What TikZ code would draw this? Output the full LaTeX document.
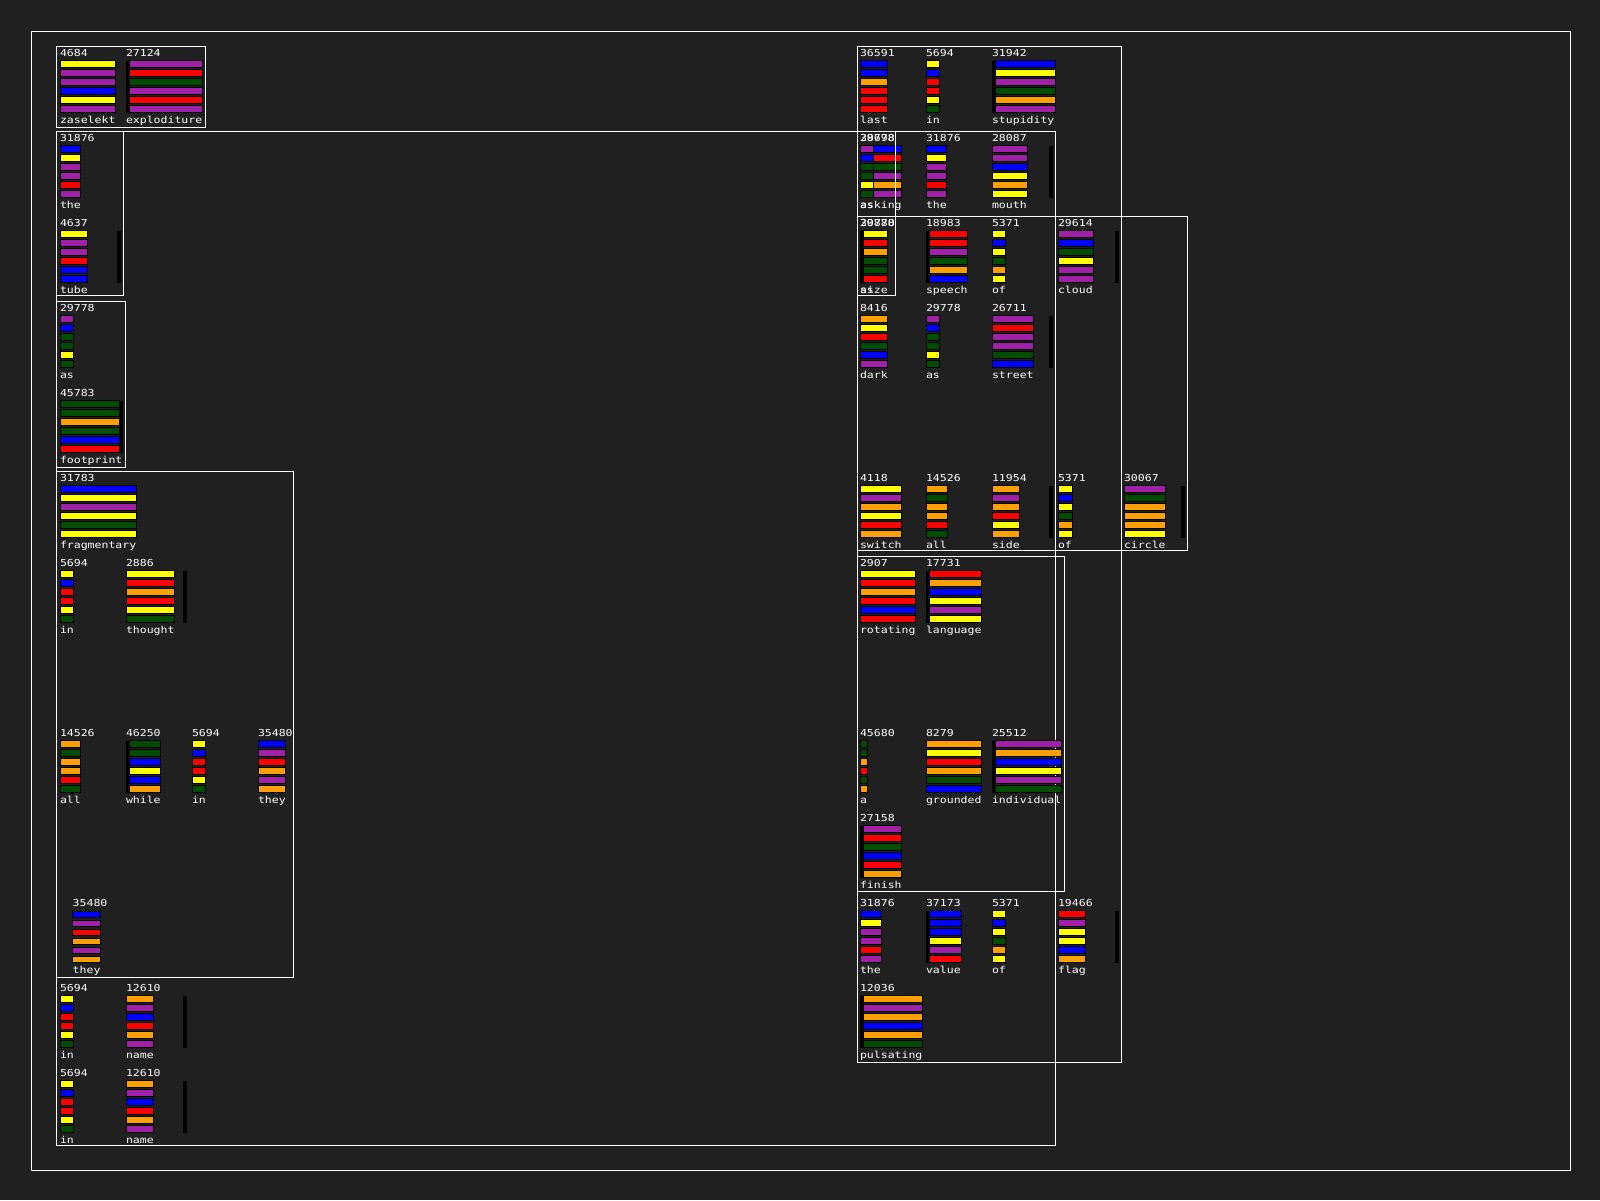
\documentclass[tikz,border=0pt]{standalone}
\usepackage{fontspec}
\newfontfamily\pixfont[FakeStretch=1.2]{DejaVu Sans Mono}
\definecolor{bgc}{HTML}{202020}
\definecolor{cy}{HTML}{FFFF00}
\definecolor{cp}{HTML}{A020A8}
\definecolor{cb}{HTML}{0000FF}
\definecolor{cr}{HTML}{FF0000}
\definecolor{cg}{HTML}{004D00}
\definecolor{co}{HTML}{FFA000}
\tikzset{
  txt/.style={anchor=base west, inner sep=0pt, outer sep=0pt, text=white, font=\pixfont\fontsize{9.6}{11}\selectfont},
  barbox/.style={draw=black, line width=1pt},
  stembox/.style={fill=black},
  grp/.style={draw=white, line width=1pt},
}
% #1 name, #2 x, #3 y, #4 number, #5 word, #6 bar x0, #7 bar x1, #8 colours
\newcommand\gcell[8]{%
  \node[txt] (n-#1) at (#2,#3+7) {#4};
  \node[txt] (w-#1) at (#2,#3+74) {#5};
  \foreach \cc [count=\ii from 0] in {#8} {
    \draw[barbox, fill=\cc] (#6,#3+11.3+9*\ii) rectangle (#7,#3+18+9*\ii);
  }
}
\newcommand\gstem[3]{\fill[stembox] (#1,#3+11.3) rectangle (#2,#3+64);}
\begin{document}
\begin{tikzpicture}[x=1pt,y=-1pt]
\useasboundingbox (0,0) rectangle (1600,1200);
\fill[bgc] (0,0) rectangle (1600,1200);
\draw[grp] (31,31) rectangle (1570,1170);
\draw[grp] (56.7,131) rectangle (1055,1145);
% ---------------- left group
\gcell{a1}{60}{49.3}{4684}{zaselekt}{60}{115.7}{cy,cp,cp,cb,cy,cp}
\gstem{126}{129.3}{49.3}
\gcell{a2}{126}{49.3}{27124}{exploditure}{129.3}{202.7}{cp,cr,cg,cp,cr,cp}
\gcell{a3}{60}{134.3}{31876}{the}{60}{80.7}{cb,cy,cp,cp,cr,cp}
\gcell{a4}{60}{219.3}{4637}{tube}{60}{87.7}{cy,cp,cp,cr,cb,cb}
\gstem{116.7}{121}{219.3}
\gcell{a5}{60}{304.3}{29778}{as}{60}{73.7}{cp,cb,cg,cg,cy,cg}
\gcell{a6}{60}{389.3}{45783}{footprint}{60}{119.3}{cg,cg,co,cg,cb,cr}
\gstem{119.3}{122.7}{389.3}
\gcell{a7}{60}{474.3}{31783}{fragmentary}{60}{136.7}{cb,cy,cp,cy,cg,cy}
\gcell{a8}{60}{559.3}{5694}{in}{60}{73.7}{cy,cb,cr,cr,cy,cg}
\gcell{a9}{126}{559.3}{2886}{thought}{126}{174.7}{cy,cr,co,cr,cy,cg}
\gstem{182.7}{186.7}{559.3}
\gcell{a10}{60}{729.3}{14526}{all}{60}{80.7}{co,cg,co,co,cr,cg}
\gstem{126}{129.3}{729.3}
\gcell{a11}{126}{729.3}{46250}{while}{129.3}{160.7}{cg,cg,cb,cy,cb,co}
\gcell{a12}{192}{729.3}{5694}{in}{192}{205.7}{cy,cb,cr,cr,cy,cg}
\gcell{a13}{258}{729.3}{35480}{they}{258}{285.7}{cb,cp,cr,co,cp,co}
\gcell{a14}{72.7}{899.8}{35480}{they}{72.7}{100.7}{cb,cp,cr,co,cp,co}
\gcell{a15}{60}{984.3}{5694}{in}{60}{73.7}{cy,cb,cr,cr,cy,cg}
\gcell{a16}{126}{984.3}{12610}{name}{126}{153.7}{co,cp,cb,cr,co,cp}
\gstem{182.7}{186.7}{984.3}
\gcell{a17}{60}{1069.3}{5694}{in}{60}{73.7}{cy,cb,cr,cr,cy,cg}
\gcell{a18}{126}{1069.3}{12610}{name}{126}{153.7}{co,cp,cb,cr,co,cp}
\gstem{182.7}{186.7}{1069.3}
% ---------------- right group
\gcell{b1}{860}{49.3}{36591}{last}{860}{887.7}{cb,cb,co,cr,cr,cr}
\gcell{b2}{926}{49.3}{5694}{in}{926}{939.7}{cy,cb,cr,cr,cy,cg}
\gstem{992}{995}{49.3}
\gcell{b3}{992}{49.3}{31942}{stupidity}{995}{1055}{cb,cy,cp,cg,co,cp}
\gcell{b4}{860}{134.3}{38698}{asking}{873.3}{901.7}{cb,cr,cg,cp,co,cp}
\gcell{b5}{860}{134.3}{29778}{as}{860}{873.3}{cp,cb,cg,cg,cy,cg}
\gcell{b6}{926}{134.3}{31876}{the}{926}{946.7}{cb,cy,cp,cp,cr,cp}
\gcell{b7}{992}{134.3}{28087}{mouth}{992}{1027}{cp,cp,cb,cy,co,cy}
\gstem{1049}{1053}{134.3}
\gcell{b8}{860}{219.3}{29778}{as}{860}{873.3}{cp,cb,cg,cg,cy,cg}
\gstem{860}{863.3}{219.3}
\gcell{b9}{860}{219.3}{30880}{size}{863.3}{887.7}{cy,cr,co,cg,cg,cr}
\gstem{926}{929.3}{219.3}
\gcell{b10}{926}{219.3}{18983}{speech}{929.3}{967.7}{cr,cr,cp,cg,co,cb}
\gcell{b11}{992}{219.3}{5371}{of}{992}{1005.7}{cy,cb,cy,cg,co,cy}
\gcell{b12}{1058}{219.3}{29614}{cloud}{1058}{1093}{cp,cb,cg,cy,cp,cp}
\gstem{1115}{1119}{219.3}
\gcell{b13}{860}{304.3}{8416}{dark}{860}{887.7}{co,cy,cr,cg,cb,cp}
\gcell{b14}{926}{304.3}{29778}{as}{926}{939.7}{cp,cb,cg,cg,cy,cg}
\gcell{b15}{992}{304.3}{26711}{street}{992}{1033.7}{cp,cr,cp,cp,cg,cb}
\gstem{1049}{1053}{304.3}
\gcell{b16}{860}{474.3}{4118}{switch}{860}{901.7}{cy,cp,co,cy,cr,co}
\gcell{b17}{926}{474.3}{14526}{all}{926}{947}{co,cg,co,co,cr,cg}
\gcell{b18}{992}{474.3}{11954}{side}{992}{1019.7}{co,cp,co,cr,cy,co}
\gstem{1049}{1053}{474.3}
\gcell{b19}{1058}{474.3}{5371}{of}{1058}{1072}{cy,cb,cy,cg,co,cy}
\gcell{b20}{1124}{474.3}{30067}{circle}{1124}{1165.7}{cp,cg,co,co,co,cy}
\gstem{1181}{1185}{474.3}
\gcell{b21}{860}{559.3}{2907}{rotating}{860}{915.7}{cy,cr,co,cr,cb,cr}
\gstem{926}{929.3}{559.3}
\gcell{b22}{926}{559.3}{17731}{language}{929.3}{981.7}{cr,co,cb,cy,cp,cy}
\gcell{b23}{860}{729.3}{45680}{a}{860}{867}{cg,cg,co,cr,cg,co}
\gcell{b24}{926}{729.3}{8279}{grounded}{926}{981.7}{co,cy,cr,co,cg,cb}
\gstem{992}{995}{729.3}
\gcell{b25}{992}{729.3}{25512}{individual}{995}{1061.7}{cp,co,cb,cy,cp,cg}
\gstem{860}{863.3}{814.3}
\gcell{b26}{860}{814.3}{27158}{finish}{863.3}{901.7}{cp,cr,cg,cb,cr,co}
\gcell{b27}{860}{899.3}{31876}{the}{860}{881}{cb,cy,cp,cp,cr,cp}
\gstem{926}{929.3}{899.3}
\gcell{b28}{926}{899.3}{37173}{value}{929.3}{961}{cb,cb,cb,cy,cp,cr}
\gcell{b29}{992}{899.3}{5371}{of}{992}{1005.7}{cy,cb,cy,cg,co,cy}
\gcell{b30}{1058}{899.3}{19466}{flag}{1058}{1085.7}{cr,cp,cy,cy,cb,co}
\gstem{1115}{1119}{899.3}
\gstem{860}{863.3}{984.3}
\gcell{b31}{860}{984.3}{12036}{pulsating}{863.3}{922.7}{co,cp,co,cb,co,cg}
% ---------------- group frames
\draw[grp] (56.7,46) rectangle (205.3,127.3);
\draw[grp] (56.7,131) rectangle (123.3,295.7);
\draw[grp] (56.7,301) rectangle (125.7,467.7);
\draw[grp] (56.7,471) rectangle (293.3,977.3);
\draw[grp] (857.7,46) rectangle (1121.7,1062);
\draw[grp] (857.7,131) rectangle (895.3,295);
\draw[grp] (857.7,216) rectangle (1187.7,550);
\draw[grp] (857.7,556) rectangle (1064.3,891);
\end{tikzpicture}
\end{document}
